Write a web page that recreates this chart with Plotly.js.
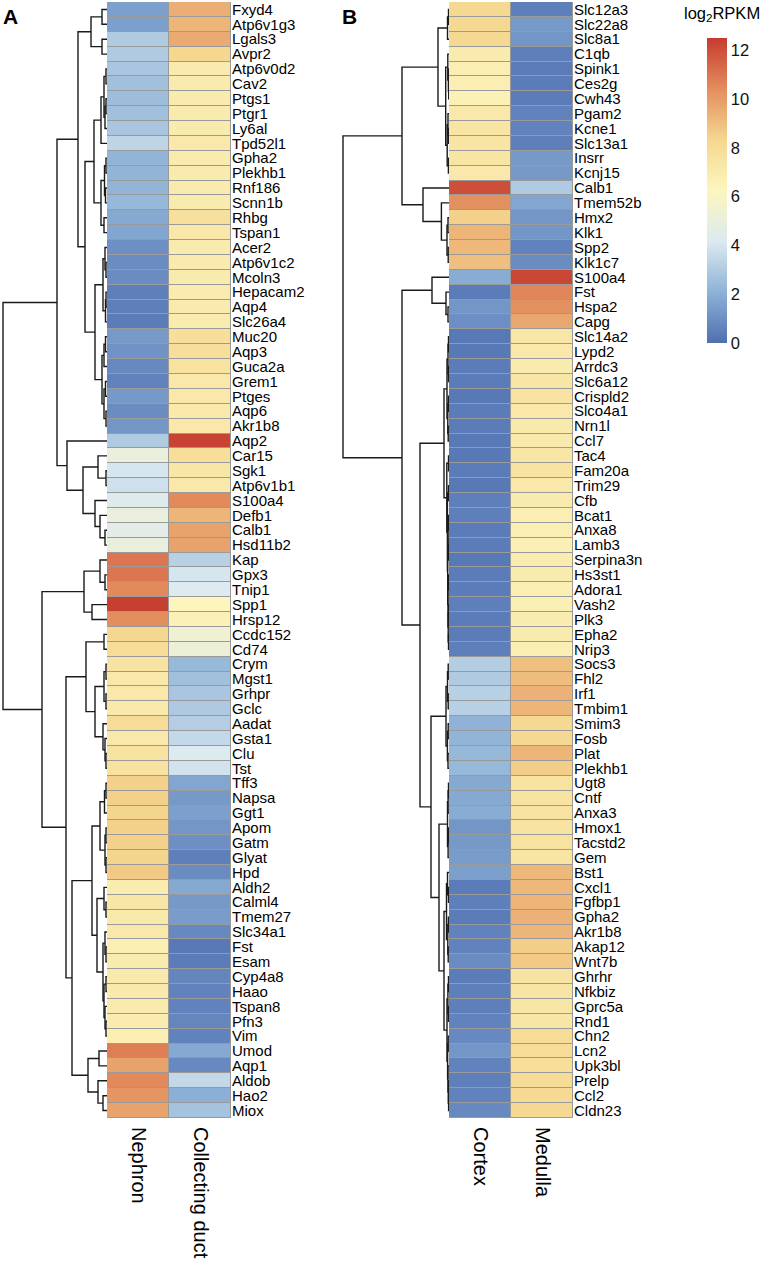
<!DOCTYPE html>
<html><head><meta charset="utf-8">
<script src="https://cdn.plot.ly/plotly-3.0.1.min.js"></script>
<style>html,body{margin:0;padding:0;background:#fff}#chart{width:765px;height:1274px}</style>
</head><body><div id="chart"></div>
<script>
// ---------- Panel A data ----------
const genesA = ["Fxyd4","Atp6v1g3","Lgals3","Avpr2","Atp6v0d2","Cav2","Ptgs1","Ptgr1","Ly6al","Tpd52l1",
"Gpha2","Plekhb1","Rnf186","Scnn1b","Rhbg","Tspan1","Acer2","Atp6v1c2","Mcoln3","Hepacam2",
"Aqp4","Slc26a4","Muc20","Aqp3","Guca2a","Grem1","Ptges","Aqp6","Akr1b8","Aqp2",
"Car15","Sgk1","Atp6v1b1","S100a4","Defb1","Calb1","Hsd11b2","Kap","Gpx3","Tnip1",
"Spp1","Hrsp12","Ccdc152","Cd74","Crym","Mgst1","Grhpr","Gclc","Aadat","Gsta1",
"Clu","Tst","Tff3","Napsa","Ggt1","Apom","Gatm","Glyat","Hpd","Aldh2",
"Calml4","Tmem27","Slc34a1","Fst","Esam","Cyp4a8","Haao","Tspan8","Pfn3","Vim",
"Umod","Aqp1","Aldob","Hao2","Miox"];
const nephron = [1.5,1.5,3.0,3.0,2.8,2.6,2.5,2.6,2.8,3.4,
2.2,2.2,2.2,2.3,1.8,1.7,1.0,0.9,0.9,0.5,
0.5,0.4,1.3,1.1,0.8,0.6,1.3,0.9,1.2,3.0,
5.0,4.0,3.8,4.3,5.0,4.6,5.0,11.0,11.0,10.5,
12.4,10.4,8.3,8.0,7.5,7.2,7.2,7.1,8.0,7.2,
7.6,7.6,8.5,8.5,8.4,8.5,8.5,8.4,8.7,6.9,
7.3,7.1,7.2,6.8,7.0,7.0,7.1,7.0,6.9,6.8,
10.8,9.8,10.5,10.2,9.8];
const collectingDuct = [9.5,9.3,9.6,8.3,7.0,7.0,7.0,7.0,7.0,7.2,
7.0,7.0,7.0,7.0,7.7,7.2,7.0,7.0,7.0,6.9,
7.0,6.9,7.8,7.8,7.6,7.2,7.2,7.1,7.2,12.3,
7.8,7.3,7.2,10.5,9.3,9.8,9.8,3.2,4.0,4.2,
6.3,6.6,5.4,5.2,2.3,2.6,2.8,2.9,3.1,3.5,
4.2,3.9,1.7,1.3,1.5,1.2,1.0,0.5,0.9,1.8,
1.3,1.4,0.8,0.3,0.4,0.7,0.6,0.6,0.7,0.6,
1.8,0.8,3.5,2.0,2.7];
const columnsA = ["Nephron","Collecting duct"];

// ---------- Panel B data ----------
const genesB = ["Slc12a3","Slc22a8","Slc8a1","C1qb","Spink1","Ces2g","Cwh43","Pgam2","Kcne1","Slc13a1",
"Insrr","Kcnj15","Calb1","Tmem52b","Hmx2","Klk1","Spp2","Klk1c7","S100a4","Fst",
"Hspa2","Capg","Slc14a2","Lypd2","Arrdc3","Slc6a12","Crispld2","Slco4a1","Nrn1l","Ccl7",
"Tac4","Fam20a","Trim29","Cfb","Bcat1","Anxa8","Lamb3","Serpina3n","Hs3st1","Adora1",
"Vash2","Plk3","Epha2","Nrip3","Socs3","Fhl2","Irf1","Tmbim1","Smim3","Fosb",
"Plat","Plekhb1","Ugt8","Cntf","Anxa3","Hmox1","Tacstd2","Gem","Bst1","Cxcl1",
"Fgfbp1","Gpha2","Akr1b8","Akap12","Wnt7b","Ghrhr","Nfkbiz","Gprc5a","Rnd1","Chn2",
"Lcn2","Upk3bl","Prelp","Ccl2","Cldn23"];
const cortex = [8.2,8.2,8.2,7.0,6.8,6.8,6.6,7.2,7.4,7.4,
7.4,7.2,12.0,10.3,8.5,9.3,9.2,9.0,1.9,0.4,
1.2,1.0,0.3,0.3,0.4,0.4,0.3,0.4,0.4,0.3,
0.3,0.4,0.3,0.5,0.5,0.4,0.4,0.3,0.4,0.4,
0.5,0.4,0.4,0.5,3.1,3.0,3.2,3.2,2.1,2.2,
2.3,2.3,1.8,1.8,1.9,1.2,1.3,1.4,1.5,0.4,
0.5,0.4,0.6,0.6,0.9,0.4,0.5,0.5,0.6,0.8,
1.2,0.6,0.5,0.6,0.8];
const medulla = [0.5,1.3,1.2,0.5,0.4,0.4,0.4,0.6,0.6,0.5,
1.3,1.3,3.0,1.7,1.2,1.2,0.6,0.9,12.2,10.6,
10.3,9.7,7.3,7.2,7.0,7.3,7.5,7.2,7.1,7.0,
7.3,7.5,7.2,7.0,6.8,6.8,6.7,6.9,7.0,6.8,
6.7,6.9,7.0,6.8,9.0,9.1,9.4,9.3,8.2,8.2,
9.3,8.6,7.6,7.5,7.6,7.5,7.6,7.4,9.2,9.2,
9.3,9.4,9.3,8.6,8.7,7.5,7.4,7.3,7.3,8.0,
8.0,7.8,8.0,8.1,8.2];
const columnsB = ["Cortex","Medulla"];

// ---------- Dendrograms: [left, right, mergeHeight], leaves = row numbers ----------
const treeA = [
 [[[[1,2,5],[3,4,5],16],
   [[[[[5,6,1],[[7,8,1],9,2],3],10,6],[[[11,12,1],[13,14,1.5],2.5],[15,16,3],6],13],
    [[[17,[18,19,1],2],[[20,21,1],22,1.5],4],[[[23,24,1.5],25,3],[[26,27,1.5],[28,29,1],3],5],12],22],29],
  [30,[[31,[32,33,1],9],[34,[35,[36,37,2],7],12],24],40],50],
 [[[38,[39,40,2],7],[41,42,15],23],
  [[[43,44,3],[[[45,46,1],[47,48,1],3],[49,[50,[51,52,1],2],4],12],21],
   [[[[[53,54,1],55,2.5],[[56,57,1],[58,59,1],2],7],
     [[60,[61,62,1],3],[[63,[64,65,1],2],[[66,67,1],[68,[69,70,1],2],3],4],10],15],
    [[71,72,8],[73,[74,75,4],9],19],35],41],65],
 104];
const treeB = [
 [[[[1,2,0.5],3,1.5],[[4,[5,[6,7,0.3],0.6],1.2],[[8,[9,10,0.4],1],[11,12,0.6],1.8],3.3],11],
  [13,[14,[[15,16,1],[17,18,0.8],2],7.6],26],47],
 [[19,[20,[21,22,1],3],17],
  [[[[[23,24,0.5],[25,26,0.5],1],[[27,28,0.5],[29,30,0.8],1.2],2],
    [[31,32,0.5],[[33,34,0.5],[[[35,36,0.4],[37,38,0.5],0.9],[[39,40,0.5],[[41,42,0.4],[43,44,0.5],0.8],1],1.3],1.6],2.2],5],
   [[[[45,46,0.8],[47,48,0.8],1.5],[[49,50,0.8],[51,52,1],1.6],3],
    [[[[53,54,0.5],55,0.9],[[56,57,0.5],58,0.9],1.5],
     [[[59,[60,61,0.5],1.5],[[62,63,0.6],[64,65,0.8],1.2],2.5],
      [[[66,67,0.5],[68,69,0.6],1.1],[[70,71,0.8],[72,[73,[74,75,0.4],0.7],1],1.4],2],5],10],18],29],47],
 106];

// muted RdYlBu (reversed) as printed in the reference
const palette = ["#4F6FB1","#8EB2D6","#DCEAF0","#FCF6BE","#F5D78F","#E38D5E","#C63B2F"];
const colorscale = palette.map((c,i)=>[i/(palette.length-1), c]);

function dendro(tree){
  const xs=[], ys=[];
  function walk(n){
    if(typeof n==='number') return {pos:n,h:0};
    const a=walk(n[0]), b=walk(n[1]), h=n[2];
    xs.push(a.h,h,h,b.h,null); ys.push(a.pos,a.pos,b.pos,b.pos,null);
    return {pos:(a.pos+b.pos)/2,h:h};
  }
  walk(tree); return {xs,ys};
}
const rowsA = genesA.map((g,i)=>i+1);
const rowsB = genesB.map((g,i)=>i+1);
const dA = dendro(treeA), dB = dendro(treeB);

const W=765,H=1274;
const px = v=>v/W, py = v=>1-v/H;
const FONT = "Liberation Sans, Arial, Helvetica, sans-serif";
const yDomain=[py(1118),py(2)];
const geneFont = {size:15,family:FONT,color:'#000'};
const colFont = {size:20,family:FONT,color:'#000'};

const traces = [
 {type:'scatter',mode:'lines',x:dA.xs,y:dA.ys,xaxis:'x',yaxis:'y',line:{color:'#1a1a1a',width:1.4},hoverinfo:'skip',showlegend:false},
 {type:'heatmap',x:[1,2],y:rowsA,z:rowsA.map((r,i)=>[nephron[i],collectingDuct[i]]),xaxis:'x2',yaxis:'y',
  colorscale:colorscale,zmin:0,zmax:12.5,xgap:1,ygap:1,showscale:true,
  colorbar:{x:px(707),xanchor:'left',xpad:0,ypad:0,y:py(190.5),yanchor:'middle',len:305,lenmode:'pixels',thickness:20,
    outlinewidth:0,ticks:'',ticklabelpad:0,tickvals:[0,2,4,6,8,10,12],tickfont:{family:FONT,size:16.5,color:'#111'}}},
 {type:'scatter',mode:'lines',x:dB.xs,y:dB.ys,xaxis:'x3',yaxis:'y2',line:{color:'#1a1a1a',width:1.4},hoverinfo:'skip',showlegend:false},
 {type:'heatmap',x:[1,2],y:rowsB,z:rowsB.map((r,i)=>[cortex[i],medulla[i]]),xaxis:'x4',yaxis:'y2',
  colorscale:colorscale,zmin:0,zmax:12.5,xgap:1,ygap:1,showscale:false}
];

const hid = {visible:false,fixedrange:true};
const layout = {
 width:W,height:H,margin:{l:0,r:0,t:0,b:0},paper_bgcolor:'#fff',plot_bgcolor:'rgba(0,0,0,0)',
 font:{family:FONT,color:'#000'},
 xaxis:Object.assign({domain:[0,px(107)],range:[107,0],anchor:'y'},hid),
 xaxis2:{domain:[px(107),px(231)],range:[0.5,2.5],anchor:'y',tickvals:[1,2],ticktext:columnsA,tickangle:90,
   ticks:'',ticklabelstandoff:8,showgrid:false,zeroline:false,showline:false,tickfont:colFont},
 xaxis3:Object.assign({domain:[px(300),px(449)],range:[149,0],anchor:'y2'},hid),
 xaxis4:{domain:[px(449),px(573)],range:[0.5,2.5],anchor:'y2',tickvals:[1,2],ticktext:columnsB,tickangle:90,
   ticks:'',ticklabelstandoff:8,showgrid:false,zeroline:false,showline:false,tickfont:colFont},
 yaxis:{domain:yDomain,range:[75.5,0.5],anchor:'x2',side:'right',tickvals:rowsA,ticktext:genesA,ticks:'',
   showgrid:false,zeroline:false,showline:false,tickfont:geneFont},
 yaxis2:{domain:yDomain,range:[75.5,0.5],anchor:'x4',side:'right',tickvals:rowsB,ticktext:genesB,ticks:'',
   showgrid:false,zeroline:false,showline:false,tickfont:geneFont},
 shapes:[
  {type:'rect',xref:'x2',yref:'y',x0:0.5,x1:2.5,y0:0.5,y1:75.5,fillcolor:'#9a9a9a',line:{color:'#9a9a9a',width:1},layer:'below'},
  {type:'rect',xref:'x4',yref:'y2',x0:0.5,x1:2.5,y0:0.5,y1:75.5,fillcolor:'#9a9a9a',line:{color:'#9a9a9a',width:1},layer:'below'}
 ],
 annotations:[
  {text:'<b>A</b>',xref:'paper',yref:'paper',x:px(1),y:py(3),xanchor:'left',yanchor:'top',showarrow:false,font:{size:21,family:FONT,color:'#000'}},
  {text:'<b>B</b>',xref:'paper',yref:'paper',x:px(340),y:py(3),xanchor:'left',yanchor:'top',showarrow:false,font:{size:21,family:FONT,color:'#000'}},
  {text:'log<sub>2</sub>RPKM',xref:'paper',yref:'paper',x:px(722),y:py(2),xanchor:'center',yanchor:'top',showarrow:false,font:{size:16.5,family:FONT,color:'#000'}}
 ]
};
Plotly.newPlot('chart',traces,layout,{displayModeBar:false,staticPlot:true});
</script></body></html>
